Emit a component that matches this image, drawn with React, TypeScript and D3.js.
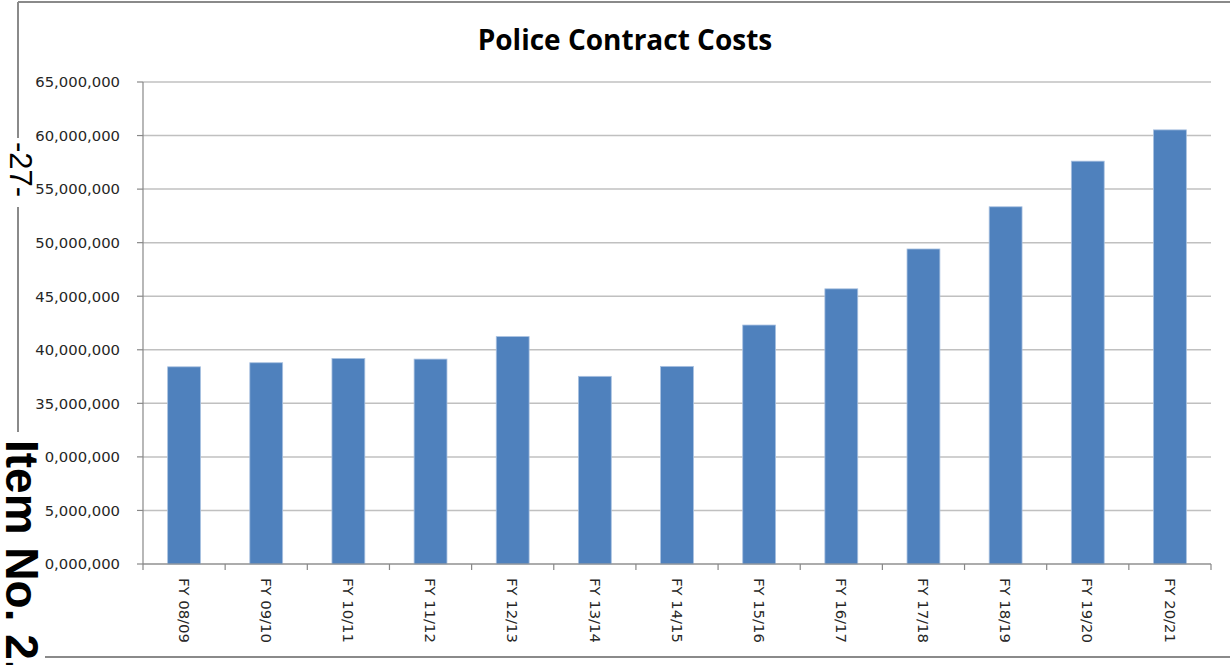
import React from "react";
import * as d3 from "d3";

const categories: string[] = [
  "FY 08/09", "FY 09/10", "FY 10/11", "FY 11/12", "FY 12/13", "FY 13/14", "FY 14/15",
  "FY 15/16", "FY 16/17", "FY 17/18", "FY 18/19", "FY 19/20", "FY 20/21",
];
const costs: number[] = [
  38410000, 38790000, 39190000, 39130000, 41230000, 37520000, 38450000,
  42310000, 45690000, 49410000, 53350000, 57610000, 60530000,
];
const yTicks: number[] = [20000000, 25000000, 30000000, 35000000, 40000000, 45000000, 50000000, 55000000, 60000000, 65000000];
const title = "Police Contract Costs";

export default function App() {
  const W = 1230, H = 665;
  const left = 143, right = 1211, top = 82, bottom = 564;
  const x = d3.scaleBand<string>().domain(categories).range([left, right]).padding(0);
  const y = d3.scaleLinear().domain([20000000, 65000000]).range([bottom, top]);
  const bw = x.bandwidth();
  const barW = bw * 0.4;
  const fmt = d3.format(",");
  const font = "'DejaVu Sans', sans-serif";
  const boundaries = categories.map((c) => x(c) as number).concat([right]);

  return (
    <svg width={W} height={H} style={{ position: "absolute", left: 0, top: 0, background: "#fff" }}>
      <rect x={0} y={0} width={W} height={H} fill="#fff" />
      {/* outer frame */}
      <line x1={18} y1={2} x2={W} y2={2} stroke="#8a8a8a" strokeWidth={2} />
      <line x1={18} y1={2} x2={18} y2={138} stroke="#8a8a8a" strokeWidth={2} />
      <line x1={18} y1={207} x2={18} y2={432} stroke="#8a8a8a" strokeWidth={2} />
      <line x1={45} y1={657} x2={W} y2={657} stroke="#8a8a8a" strokeWidth={2} />

      {/* title */}
      <text x={625} y={50} textAnchor="middle" fontFamily="'Open Sans', sans-serif" fontWeight={700} fontSize={28} fill="#000">
        {title}
      </text>

      {/* gridlines */}
      {yTicks.map((t) => (
        <line key={"g" + t} x1={left} x2={right} y1={y(t)} y2={y(t)} stroke="#c0c0c0" strokeWidth={1.5} />
      ))}

      {/* bars */}
      {categories.map((c, i) => {
        const cx = (x(c) as number) + bw / 2;
        return (
          <rect
            key={c}
            x={cx - barW / 2}
            y={y(costs[i])}
            width={barW}
            height={bottom - y(costs[i])}
            fill="#4f81bd"
            stroke="#a9c1e0"
            strokeWidth={0.8}
          />
        );
      })}

      {/* y axis */}
      <line x1={left} x2={left} y1={top} y2={bottom} stroke="#888" strokeWidth={1.2} />
      {yTicks.map((t) => (
        <g key={"t" + t}>
          <line x1={left - 6} x2={left} y1={y(t)} y2={y(t)} stroke="#888" strokeWidth={1.2} />
          <text x={120} y={y(t)} dy="0.36em" textAnchor="end" fontFamily={font} fontSize={14.8} fill="#262626">
            {fmt(t)}
          </text>
        </g>
      ))}

      {/* x axis */}
      <line x1={left} x2={right} y1={bottom} y2={bottom} stroke="#888" strokeWidth={1.2} />
      {boundaries.map((b, i) => (
        <line key={"xb" + i} x1={b} x2={b} y1={bottom} y2={bottom + 6} stroke="#888" strokeWidth={1.2} />
      ))}
      {categories.map((c) => {
        const cx = (x(c) as number) + bw / 2;
        return (
          <text
            key={"l" + c}
            transform={`translate(${cx},${578}) rotate(90)`}
            dy="0.36em"
            textAnchor="start"
            fontFamily={font}
            fontSize={14.8}
            fill="#262626"
          >
            {c}
          </text>
        );
      })}

      {/* page overlay texts */}
      <text transform="translate(8,142) rotate(90)" dy="-0.05em" fontFamily="'Liberation Sans', Arial, sans-serif" fontSize={31} fill="#000">
        -27-
      </text>
      <rect x={0} y={434} width={45} height={H - 434} fill="#fff" />
      <text transform="translate(6,440) rotate(90)" fontFamily="'Liberation Sans', Arial, sans-serif" fontWeight={700} fontSize={46} fill="#000">
        Item No. 2.
      </text>
    </svg>
  );
}
